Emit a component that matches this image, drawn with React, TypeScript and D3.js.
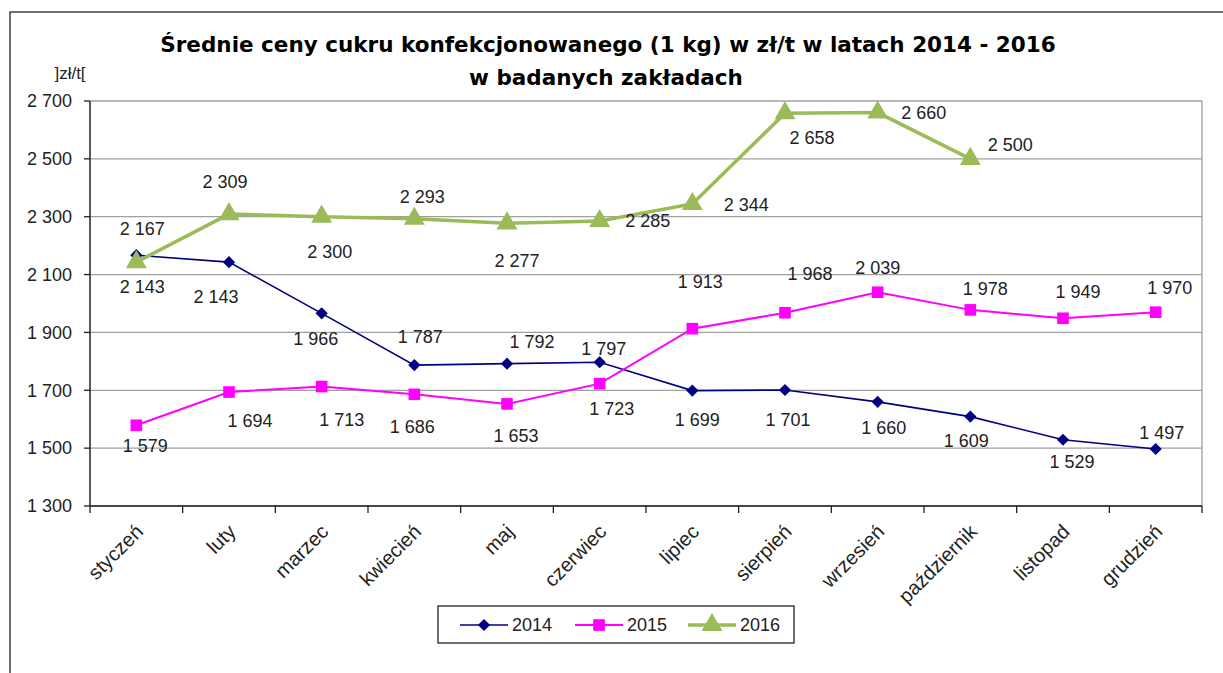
import React from 'react';
import * as d3 from 'd3';

const months = ['styczeń', 'luty', 'marzec', 'kwiecień', 'maj', 'czerwiec', 'lipiec', 'sierpień', 'wrzesień', 'październik', 'listopad', 'grudzień'];
const yTicks = [1300, 1500, 1700, 1900, 2100, 2300, 2500, 2700];

const values2014 = [2167, 2143, 1966, 1787, 1792, 1797, 1699, 1701, 1660, 1609, 1529, 1497];
const values2015 = [1579, 1694, 1713, 1686, 1653, 1723, 1913, 1968, 2039, 1978, 1949, 1970];
const values2016 = [2143, 2309, 2300, 2293, 2277, 2285, 2344, 2658, 2660, 2500];

// label offsets from the marker (dx, dy) as placed in the original
const labelOffsets2014 = [[6, -26], [-13, 35], [-6, 25], [6, -28], [25, -22], [4, -14], [5, 29], [3, 30], [6, 26], [-4, 24], [9, 22], [6, -16]];
const labelOffsets2015 = [[9, 20], [21, 29], [20, 33], [-2, 32], [9, 32], [12, 25], [8, -47], [25, -39], [0, -25], [15, -21], [15, -27], [14, -24]];
const labelOffsets2016 = [[6, 25], [-4, -32], [8, 35], [8, -22], [10, 37], [48, 0], [54, 1], [27, 25], [46, 0], [40, -14]];

const W = 1223;
const H = 673;
const margin = { left: 90, right: 1202, top: 101, bottom: 506 };
const font = '"Liberation Sans", Arial, sans-serif';
const titleFont = '"DejaVu Sans", sans-serif';

const fmt = (v: number) => d3.format(',')(v).replace(',', ' ');

type Series = { name: string; values: number[]; offsets: number[][]; color: string; width: number; marker: string };

const series: Series[] = [
  { name: '2014', values: values2014, offsets: labelOffsets2014, color: '#000080', width: 1.6, marker: 'diamond' },
  { name: '2015', values: values2015, offsets: labelOffsets2015, color: '#FF00FF', width: 2, marker: 'square' },
  { name: '2016', values: values2016, offsets: labelOffsets2016, color: '#9BBB59', width: 3.5, marker: 'triangle' },
];

const markerPath = (kind: string) => {
  if (kind === 'diamond') return d3.symbol(d3.symbolDiamond2, 95)()!;
  if (kind === 'square') return d3.symbol(d3.symbolSquare, 135)()!;
  return d3.symbol(d3.symbolTriangle, 190)()!;
};

const App: React.FC = () => {
  const x = d3.scaleBand<string>().domain(months).range([margin.left, margin.right]);
  const y = d3.scaleLinear().domain([1300, 2700]).range([margin.bottom, margin.top]);
  const cx = (i: number) => x(months[i])! + x.bandwidth() / 2;

  const line = d3
    .line<number>()
    .x((_, i) => cx(i))
    .y((d) => y(d));

  const legendX = [460, 575, 688];

  return (
    <svg width={W} height={H} style={{ position: 'absolute', left: 0, top: 0, background: '#fff' }}>
      <rect x={10} y={12} width={1240} height={700} fill="#fff" stroke="#222" strokeWidth={1.3} />

      <text x={608} y={52} textAnchor="middle" fontFamily={titleFont} fontWeight="bold" fontSize={21.5}>
        Średnie ceny cukru konfekcjonowanego (1 kg) w zł/t w latach 2014 - 2016
      </text>
      <text x={606} y={85} textAnchor="middle" fontFamily={titleFont} fontWeight="bold" fontSize={21.5}>
        w badanych zakładach
      </text>

      <text x={70} y={73} dy="0.35em" textAnchor="middle" fontFamily={font} fontSize={17} fill="#222">]zł/t[</text>

      {/* grid */}
      {yTicks.map((t) => (
        <g key={t}>
          <line x1={margin.left} x2={margin.right} y1={y(t)} y2={y(t)} stroke="#a0a0a0" strokeWidth={1.3} />
          <line x1={margin.left - 6} x2={margin.left} y1={y(t)} y2={y(t)} stroke="#222" strokeWidth={1.3} />
          <text x={72} y={y(t)} dy="0.35em" textAnchor="end" fontFamily={font} fontSize={18} fill="#222">
            {fmt(t)}
          </text>
        </g>
      ))}
      <line x1={margin.right} x2={margin.right} y1={margin.top} y2={margin.bottom} stroke="#a0a0a0" strokeWidth={1.3} />
      <line x1={margin.left} x2={margin.left} y1={margin.top} y2={margin.bottom} stroke="#222" strokeWidth={1.5} />
      <line x1={margin.left} x2={margin.right} y1={margin.bottom} y2={margin.bottom} stroke="#222" strokeWidth={1.5} />

      {/* x ticks and labels */}
      {months.map((m, i) => (
        <g key={m}>
          <line x1={x(m)!} x2={x(m)!} y1={margin.bottom} y2={margin.bottom + 7} stroke="#222" strokeWidth={1.3} />
          {i === months.length - 1 && (
            <line x1={margin.right} x2={margin.right} y1={margin.bottom} y2={margin.bottom + 7} stroke="#222" strokeWidth={1.3} />
          )}
          <text
            transform={`translate(${cx(i) + 3},${margin.bottom + 22}) rotate(-45)`}
            textAnchor="end"
            dy="0.35em"
            fontFamily={font}
            fontSize={20}
            fill="#222"
          >
            {m}
          </text>
        </g>
      ))}

      {/* series */}
      {series.map((s) => (
        <g key={s.name}>
          <path d={line(s.values)!} fill="none" stroke={s.color} strokeWidth={s.width} />
          {s.values.map((v, i) => (
            <path key={i} d={markerPath(s.marker)} transform={`translate(${cx(i)},${y(v)})`} fill={s.color} />
          ))}
          {s.values.map((v, i) => (
            <text
              key={'l' + i}
              x={cx(i) + s.offsets[i][0]}
              y={y(v) + s.offsets[i][1]}
              dy="0.35em"
              textAnchor="middle"
              fontFamily={font}
              fontSize={18}
              fill="#222"
            >
              {fmt(v)}
            </text>
          ))}
        </g>
      ))}

      {/* legend */}
      <rect x={438} y={606} width={356} height={37} fill="#fff" stroke="#222" strokeWidth={1.3} />
      {series.map((s, i) => (
        <g key={'lg' + s.name}>
          <line x1={legendX[i]} x2={legendX[i] + 48} y1={625} y2={625} stroke={s.color} strokeWidth={s.width} />
          <path d={markerPath(s.marker)} transform={`translate(${legendX[i] + 24},625)`} fill={s.color} />
          <text x={legendX[i] + 52} y={625} dy="0.35em" fontFamily={font} fontSize={18} fill="#222">
            {s.name}
          </text>
        </g>
      ))}
    </svg>
  );
};

export default App;
